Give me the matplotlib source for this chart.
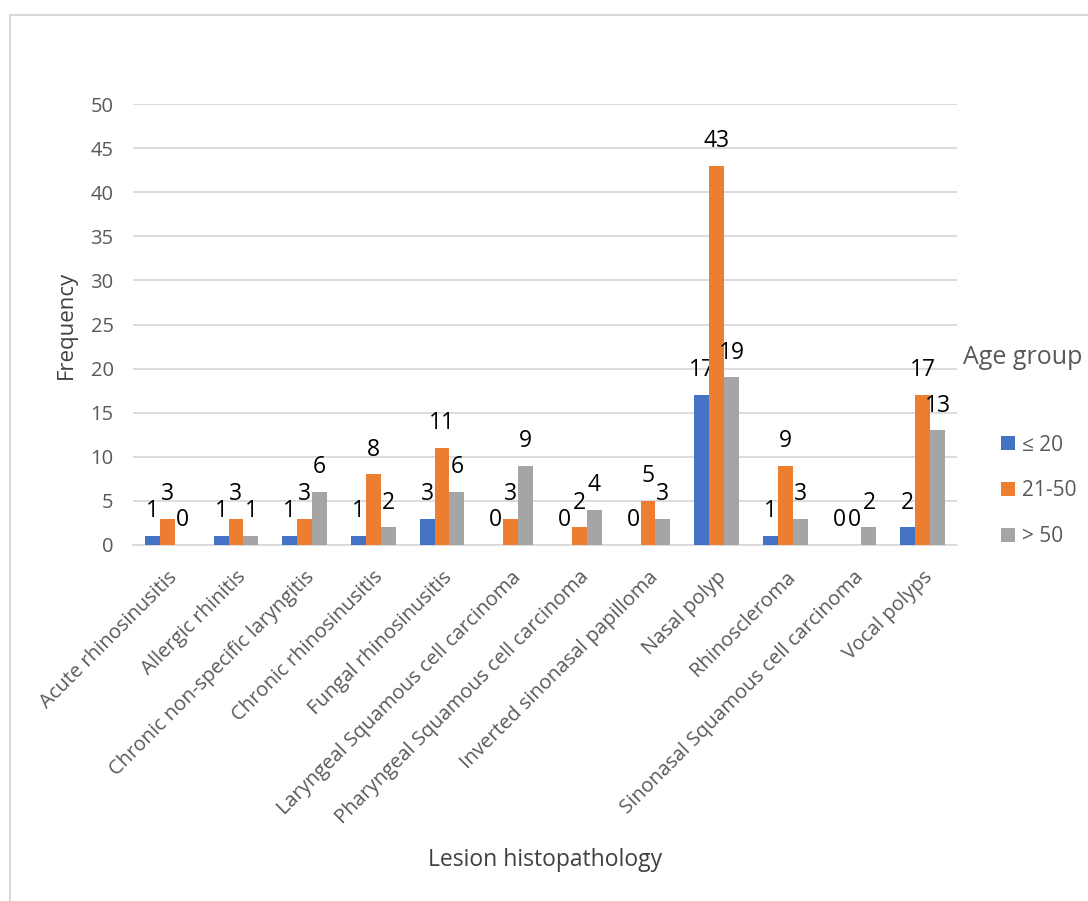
import matplotlib
matplotlib.use("Agg")
import matplotlib.pyplot as plt
from matplotlib.patches import Patch, Rectangle
import numpy as np

plt.rcParams['font.family'] = ['Open Sans', 'DejaVu Sans']

categories = [
    "Acute rhinosinusitis", "Allergic rhinitis", "Chronic non-specific laryngitis",
    "Chronic rhinosinusitis", "Fungal rhinosinusitis", "Laryngeal Squamous cell carcinoma",
    "Pharyngeal Squamous cell carcinoma", "Inverted sinonasal papilloma", "Nasal polyp",
    "Rhinoscleroma", "Sinonasal Squamous cell carcinoma", "Vocal polyps",
]
age_le20 = [1, 1, 1, 1, 3, 0, 0, 0, 17, 1, 0, 2]
age_21_50 = [3, 3, 3, 8, 11, 3, 2, 5, 43, 9, 0, 17]
age_gt50 = [0, 1, 6, 2, 6, 9, 4, 3, 19, 3, 2, 13]
series_names = ["\u2264 20", "21-50", "> 50"]
colors = ["#4472C4", "#ED7D31", "#A5A5A5"]
yticks = [0, 5, 10, 15, 20, 25, 30, 35, 40, 45, 50]

fig = plt.figure(figsize=(10.88, 9.01), dpi=100)
ax = fig.add_axes([133 / 1088, 1 - 545 / 901, (957 - 133) / 1088, (545 - 104) / 901])

x = np.arange(len(categories))
w = 0.218
series = [age_le20, age_21_50, age_gt50]
for i, (vals, col, name) in enumerate(zip(series, colors, series_names)):
    pos = x + (i - 1) * w
    ax.bar(pos, vals, width=w, color=col, label=name, zorder=3)
    for px, v in zip(pos, vals):
        ax.annotate(str(v), (px, v), xytext=(0, 13.5), textcoords="offset points",
                    ha="center", va="baseline", fontsize=16.5, color="#000000")

ax.set_xlim(-0.5, len(categories) - 0.5)
ax.set_ylim(0, 50)
ax.set_yticks(yticks)
ax.yaxis.grid(True, color="#D9D9D9", linewidth=1.3, zorder=0)
ax.set_axisbelow(True)
for s in ["top", "right", "left"]:
    ax.spines[s].set_visible(False)
ax.spines["bottom"].set_color("#D9D9D9")
ax.spines["bottom"].set_linewidth(1.3)
ax.tick_params(axis="both", length=0, colors="#595959")
ax.tick_params(axis="y", labelsize=14.5, pad=14)
ax.set_xticks(x)
ax.set_xticklabels(categories, rotation=45, ha="right", rotation_mode="anchor",
                   fontsize=14.5, color="#595959")
ax.tick_params(axis="x", pad=16)

ax.set_ylabel("Frequency", fontsize=16, color="#404040", labelpad=10)
fig.text(545 / 1088, 1 - 860 / 901, "Lesion histopathology", fontsize=16.5,
         color="#404040", ha="center", va="center")

# legend with separate title
fig.text(963 / 1088, 1 - 358 / 901, "Age group", fontsize=18, color="#595959",
         ha="left", va="center")
handles = [Patch(facecolor=c, edgecolor="none") for c in colors]
fig.legend(handles, series_names, loc="center left",
           bbox_to_anchor=(993 / 1088, 1 - 491 / 901), frameon=False,
           fontsize=15, labelcolor="#595959", handlelength=0.65, handleheight=0.65,
           handletextpad=0.35, labelspacing=1.2, borderaxespad=0)

# outer chart border
fig.add_artist(Rectangle((10 / 1088, -0.05), 1.2, 1 - 15 / 901 + 0.05,
                         transform=fig.transFigure, fill=False,
                         edgecolor="#D9D9D9", linewidth=1.5))

fig.savefig("out.png", dpi=100)
